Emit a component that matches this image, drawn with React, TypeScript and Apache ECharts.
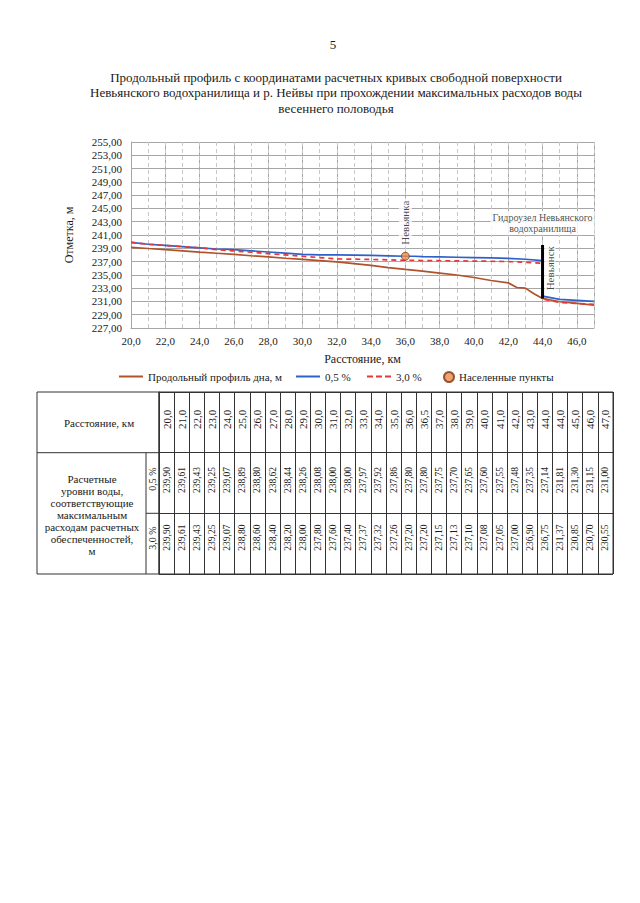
import React, { useEffect, useRef } from 'react';
import * as echarts from 'echarts';

const FONT = '"Liberation Serif", "Times New Roman", serif';
const INK = '#1a1a1a';

// ---- data ----
const bedKm = [20, 21, 22, 23, 24, 25, 26, 27, 28, 29, 30, 31, 32, 33, 34, 35, 36, 37, 38, 39, 40, 41, 42, 42.5, 43, 43.5, 44, 45, 46, 47];
const bedLevel = [239.15, 238.97, 238.8, 238.62, 238.43, 238.25, 238.07, 237.88, 237.7, 237.5, 237.33, 237.15, 236.95, 236.7, 236.42, 236.1, 235.82, 235.55, 235.27, 234.98, 234.6, 234.15, 233.8, 233.1, 233.0, 232.15, 231.45, 230.95, 230.72, 230.45];

const tableKm = [20, 21, 22, 23, 24, 25, 26, 27, 28, 29, 30, 31, 32, 33, 34, 35, 36, 36.5, 37, 38, 39, 40, 41, 42, 43, 44, 44, 45, 46, 47];
const level05 = [239.9, 239.61, 239.43, 239.25, 239.07, 238.89, 238.8, 238.62, 238.44, 238.26, 238.08, 238.0, 238.0, 237.97, 237.92, 237.86, 237.8, 237.8, 237.75, 237.7, 237.65, 237.6, 237.55, 237.48, 237.35, 237.14, 231.81, 231.3, 231.15, 231.0];
const level30 = [239.9, 239.61, 239.43, 239.25, 239.07, 238.8, 238.6, 238.4, 238.2, 238.0, 237.8, 237.6, 237.4, 237.37, 237.32, 237.26, 237.2, 237.2, 237.15, 237.13, 237.1, 237.08, 237.05, 237.0, 236.9, 236.75, 231.37, 230.85, 230.7, 230.55];

const settlementKm = [36];
const settlementLevel = [237.8];
const settlementName = ['Невьянка'];

const damKm = [44, 44];
const damLevel = [239.5, 231.45];
const damName = 'Гидроузел Невьянского\nводохранилища';

const townKm = [44];
const townLevel = [236.0];
const townName = ['Невьянск'];

const seriesNames = ['Продольный профиль дна, м', '0,5 %', '3,0 %', 'Населенные пункты'];
const titleLines = [
  'Продольный профиль с координатами расчетных кривых свободной поверхности',
  'Невьянского водохранилища и р. Нейвы при прохождении максимальных расходов воды',
  'весеннего половодья',
];
const tableRowHeader = 'Расстояние, км';
const tableLevelHeader = 'Расчетные\nуровни воды,\nсоответствующие\nмаксимальным\nрасходам расчетных\nобеспеченностей,\nм';
const tableSubHeaders = ['0,5 %', '3,0 %'];
const pageNumber = '5';

const fmt = (v: number, d: number) => v.toFixed(d).replace('.', ',');

// table cells built from the arrays
type Cell = { col: number; pos: number; text: string; size: number };
const tableCells: Cell[] = [];
tableKm.forEach((k, i) => {
  tableCells.push({ col: i, pos: 0.45, text: fmt(k, 1), size: 11 });
  tableCells.push({ col: i, pos: 1.45, text: fmt(level05[i], 2), size: 9.5 });
  tableCells.push({ col: i, pos: 2.4, text: fmt(level30[i], 2), size: 9.5 });
});

const SOLID_ICON = 'path://M0,0H24V2H0Z';
const DASH_ICON = 'path://M0,0H6V2H0Z M9,0H15V2H9Z M18,0H24V2H18Z';
const legendLeft = [119, 296, 367, 443];
const legendIcons = [SOLID_ICON, SOLID_ICON, DASH_ICON, 'circle'];

export default function App() {
  const ref = useRef<HTMLDivElement>(null);

  useEffect(() => {
    if (!ref.current) return;
    const chart = echarts.init(ref.current, undefined, { renderer: 'svg' });

    const labelStyle = { color: INK, fontFamily: FONT };
    const clear = 'rgba(0,0,0,0)';

    const option: any = {
      animation: false,
      textStyle: { fontFamily: FONT, color: INK },
      grid: [
        { left: 131, top: 142, width: 463, height: 186 },
        { left: 159, top: 392, width: 454, height: 182, show: true, borderColor: '#333', borderWidth: 1 },
      ],
      legend: seriesNames.map((n, i) => ({
        left: legendLeft[i], top: 371, padding: 0,
        itemWidth: i === 3 ? 10 : 24, itemHeight: i === 3 ? 10 : 2, itemGap: 5,
        data: [{ name: n, icon: legendIcons[i] }],
        textStyle: { ...labelStyle, fontSize: 11 },
      })),
      xAxis: [
        {
          type: 'value', gridIndex: 0, min: 20, max: 47, interval: 2,
          axisLine: { show: true, lineStyle: { color: '#a6a6a6' } },
          axisTick: { show: false },
          axisLabel: {
            ...labelStyle, fontSize: 11, margin: 7, showMaxLabel: false,
            formatter: (v: number) => (v % 2 === 0 ? fmt(v, 1) : ''),
          },
          splitLine: { show: true, lineStyle: { color: '#a6a6a6', width: 1 } },
          name: 'Расстояние, км', nameLocation: 'middle', nameGap: 25,
          nameTextStyle: { ...labelStyle, fontSize: 12 },
        },
        {
          type: 'value', gridIndex: 0, min: 20, max: 47, interval: 1, position: 'bottom',
          axisLine: { show: false }, axisTick: { show: false }, axisLabel: { show: false },
          splitLine: { show: true, lineStyle: { color: '#c8c8c8', width: 1, type: [4, 3] } },
        },
        {
          type: 'category', gridIndex: 1, data: tableKm.map((k) => fmt(k, 1)), boundaryGap: true,
          axisLine: { show: true, lineStyle: { color: '#333' } },
          axisTick: { show: false }, axisLabel: { show: false },
          splitLine: { show: true, interval: 0, lineStyle: { color: '#333', width: 1 } },
        },
      ],
      yAxis: [
        {
          type: 'value', gridIndex: 0, min: 227, max: 255, interval: 2,
          axisLine: { show: true, lineStyle: { color: '#a6a6a6' } },
          axisTick: { show: false },
          axisLabel: { ...labelStyle, fontSize: 11, margin: 9, formatter: (v: number) => fmt(v, 2) },
          splitLine: { show: true, lineStyle: { color: '#a6a6a6', width: 1 } },
          name: 'Отметка, м', nameLocation: 'middle', nameGap: 56, nameRotate: 90,
          nameTextStyle: { ...labelStyle, fontSize: 12 },
        },
        {
          type: 'value', gridIndex: 1, min: 0, max: 3, interval: 1, inverse: true,
          axisLine: { show: true, lineStyle: { color: '#333' } },
          axisTick: { show: false }, axisLabel: { show: false },
          splitLine: { show: true, lineStyle: { color: '#333', width: 1 } },
        },
      ],
      series: [
        {
          name: seriesNames[0], type: 'line', xAxisIndex: 0, yAxisIndex: 0,
          data: bedKm.map((k, i) => [k, bedLevel[i]]),
          symbol: 'none', color: '#b0522b',
          lineStyle: { color: '#b0522b', width: 1.7 }, z: 3,
        },
        {
          name: seriesNames[1], type: 'line', xAxisIndex: 0, yAxisIndex: 0,
          data: tableKm.map((k, i) => [k, level05[i]]),
          symbol: 'none', color: '#2f62c8',
          lineStyle: { color: '#2f62c8', width: 1.7 }, z: 4,
        },
        {
          name: seriesNames[2], type: 'line', xAxisIndex: 0, yAxisIndex: 0,
          data: tableKm.map((k, i) => [k, level30[i]]),
          symbol: 'none', color: '#e5383b',
          lineStyle: { color: '#e5383b', width: 1.7, type: [5, 4] }, z: 4,
        },
        {
          name: 'dam', type: 'line', xAxisIndex: 0, yAxisIndex: 0,
          data: damKm.map((k, i) => [k, damLevel[i]]),
          symbol: 'none', lineStyle: { color: '#000', width: 3 }, z: 6,
        },
        {
          name: seriesNames[3], type: 'scatter', xAxisIndex: 0, yAxisIndex: 0,
          data: settlementKm.map((k, i) => ({ value: [k, settlementLevel[i]], name: settlementName[i] })),
          symbolSize: 8,
          itemStyle: { color: '#f08a4b', borderColor: '#7a3a10', borderWidth: 1 },
          label: {
            show: true, formatter: '{b}', position: 'top', rotate: 90, align: 'left', verticalAlign: 'middle',
            distance: 5, ...labelStyle, fontSize: 11, backgroundColor: '#fff', padding: [1, 2],
          },
          z: 7,
        },
        {
          name: 'damLabel', type: 'scatter', xAxisIndex: 0, yAxisIndex: 0,
          data: [{ value: [damKm[0], damLevel[0]], name: damName }],
          symbolSize: 2, itemStyle: { color: clear }, silent: true,
          label: {
            show: true, formatter: '{b}', position: 'top', distance: 9, align: 'center',
            ...labelStyle, fontSize: 10, lineHeight: 11, backgroundColor: '#fff', padding: [1, 2],
          },
          z: 7,
        },
        {
          name: 'town', type: 'scatter', xAxisIndex: 0, yAxisIndex: 0,
          data: townKm.map((k, i) => ({ value: [k, townLevel[i]], name: townName[i] })),
          symbolSize: 2, itemStyle: { color: clear }, silent: true,
          label: {
            show: true, formatter: '{b}', position: 'right', distance: 1, rotate: 90,
            align: 'center', verticalAlign: 'top', ...labelStyle, fontSize: 11,
            backgroundColor: '#fff', padding: [0, 1],
          },
          z: 7,
        },
        {
          name: 'table', type: 'custom', xAxisIndex: 2, yAxisIndex: 1,
          data: tableCells.map((c) => [c.col, c.pos]),
          encode: { x: 0, y: 1 },
          renderItem: (params: any, api: any) => {
            const c = tableCells[params.dataIndex];
            const p = api.coord([c.col, c.pos]);
            return {
              type: 'text', x: p[0], y: p[1], rotation: Math.PI / 2,
              style: {
                text: c.text, align: 'center', verticalAlign: 'middle',
                textAlign: 'center', textVerticalAlign: 'middle',
                fontFamily: FONT, fontSize: c.size, fill: INK,
              },
            };
          },
          silent: true,
        },
      ],
      graphic: [
        { type: 'text', x: 333, y: 44, style: { text: pageNumber, font: `13px ${FONT}`, fill: INK, textAlign: 'center', textVerticalAlign: 'middle' } },
        ...titleLines.map((t, i) => ({
          type: 'text', x: 336, y: 77 + i * 15.5,
          style: { text: t, font: `13px ${FONT}`, fill: INK, textAlign: 'center', textVerticalAlign: 'middle' },
        })),
        // left header column of the table
        { type: 'rect', shape: { x: 37, y: 392, width: 122, height: 182 }, style: { fill: 'none', stroke: '#333', lineWidth: 1 } },
        { type: 'line', shape: { x1: 37, y1: 452.7, x2: 159, y2: 452.7 }, style: { stroke: '#333', lineWidth: 1 } },
        { type: 'line', shape: { x1: 146, y1: 452.7, x2: 146, y2: 574 }, style: { stroke: '#333', lineWidth: 1 } },
        { type: 'line', shape: { x1: 146, y1: 513.3, x2: 159, y2: 513.3 }, style: { stroke: '#333', lineWidth: 1 } },
        { type: 'text', x: 99, y: 423, style: { text: tableRowHeader, font: `11px ${FONT}`, fill: INK, textAlign: 'center', textVerticalAlign: 'middle' } },
        { type: 'text', x: 92, y: 515, style: { text: tableLevelHeader, font: `11px ${FONT}`, lineHeight: 12, fill: INK, textAlign: 'center', textVerticalAlign: 'middle' } },
        ...tableSubHeaders.map((t, i) => ({
          type: 'text', x: 152.5, y: i === 0 ? 479 : 538, rotation: Math.PI / 2,
          style: { text: t, font: `10px ${FONT}`, fill: INK, textAlign: 'center', textVerticalAlign: 'middle' },
        })),
      ],
    };

    chart.setOption(option);
    return () => chart.dispose();
  }, []);

  return <div ref={ref} style={{ position: 'absolute', left: 0, top: 0, width: 640, height: 903 }} />;
}
